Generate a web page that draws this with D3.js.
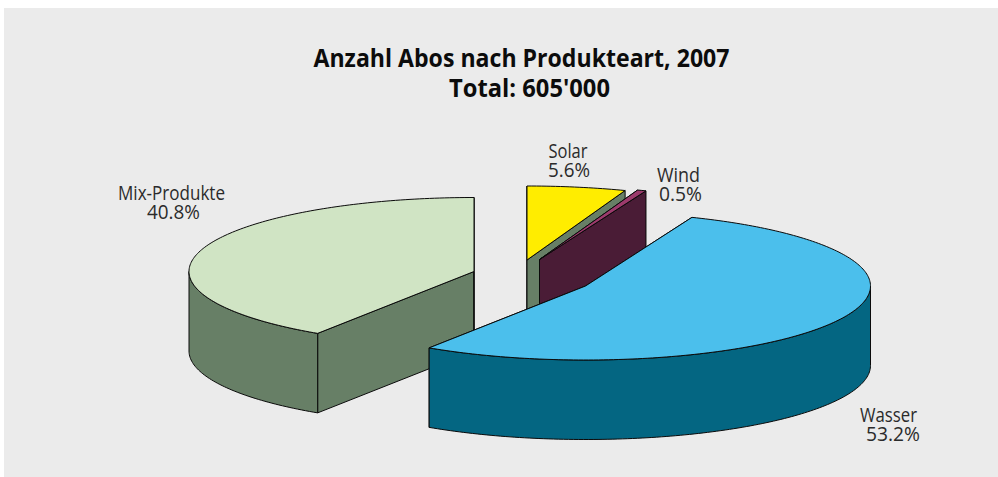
<!DOCTYPE html>
<html>
<head>
<meta charset="utf-8">
<script src="https://cdn.jsdelivr.net/npm/d3@7/dist/d3.min.js"></script>
<style>
html,body{margin:0;padding:0;background:#fff;overflow:hidden}
svg{display:block}
text{font-family:"Open Sans","Noto Sans",sans-serif}
</style>
</head>
<body>
<div id="chart"></div>
<script>
// Data
const categories = ["Solar", "Wind", "Wasser", "Mix-Produkte"];
const shares = [5.6, 0.5, 53.2, 40.8];
const shareLabels = ["5.6%", "0.5%", "53.2%", "40.8%"];
const titleLines = ["Anzahl Abos nach Produkteart, 2007", "Total: 605'000"];

// Layout and style
const W = 998, H = 477;
const rx = 285, ry = 74, depth = 79.5;
const centres = [[527, 260], [539.5, 259.5], [585.5, 286], [474, 271.5]];
const topColors = ["#ffed00", "#9c3a6c", "#4bbfec", "#d0e4c4"];
const wallColors = ["#677f66", "#4a1c36", "#046682", "#677f66"];
const drawOrder = [3, 0, 1, 2];
// x, baseline y, text length for: name line, share line
const labelBoxes = [
  [[548.5, 157.5, 39], [548, 176.5, 42]],
  [[657, 181.5, 43], [659, 200.5, 43]],
  [[860, 421.5, 57], [866, 440.5, 54]],
  [[118, 200, 107], [147, 219, 53]]
];
const titleBoxes = [[313.5, 67, 416], [449, 96.5, 161]];

const svg = d3.select("#chart").append("svg").attr("width", W).attr("height", H);
svg.append("rect").attr("x", 4).attr("y", 8).attr("width", W - 4).attr("height", H - 8).attr("fill", "#ebebeb");

const sx = d3.scaleLinear().domain([-1, 1]).range([-rx, rx]);
const sy = d3.scaleLinear().domain([-1, 1]).range([-ry, ry]);

const arcs = d3.pie().sort(null).startAngle(0).endAngle(2 * Math.PI)(shares);
const line = d3.line();
const rim = (i, t, dz = 0) => [centres[i][0] + sx(Math.sin(t)), centres[i][1] + sy(-Math.cos(t)) + dz];
const sweep = (i, a, b, dz = 0) => {
  const n = Math.max(2, Math.ceil((b - a) / (Math.PI / 180)));
  return d3.range(n + 1).map(k => rim(i, a + (b - a) * k / n, dz));
};
const paint = (pts, fill) => svg.append("path")
  .attr("d", line(pts) + "Z")
  .attr("fill", fill)
  .attr("stroke", "#0a0a0a")
  .attr("stroke-width", 1)
  .attr("stroke-linejoin", "round");

drawOrder.forEach(i => {
  const a = arcs[i].startAngle, b = arcs[i].endAngle;
  const c = centres[i], cLow = [c[0], c[1] + depth];
  // radial side walls
  [a, b].forEach(t => {
    paint([c, rim(i, t), rim(i, t, depth), cLow], wallColors[i]);
  });
  // outer wall, front half only
  const from = Math.max(a, Math.PI / 2), to = Math.min(b, 3 * Math.PI / 2);
  if (to > from) {
    paint(sweep(i, from, to).concat(sweep(i, from, to, depth).reverse()), wallColors[i]);
  }
  // top face
  paint([c].concat(sweep(i, a, b)), topColors[i]);
});

// Title
svg.selectAll("text.title").data(titleLines).join("text")
  .attr("class", "title")
  .attr("x", (d, i) => titleBoxes[i][0])
  .attr("y", (d, i) => titleBoxes[i][1])
  .attr("textLength", (d, i) => titleBoxes[i][2])
  .attr("lengthAdjust", "spacingAndGlyphs")
  .attr("font-size", 24.5)
  .attr("font-weight", 700)
  .attr("fill", "#0c0c0c")
  .text(d => d);

// Labels
categories.forEach((name, i) => {
  [name, shareLabels[i]].forEach((str, j) => {
    const box = labelBoxes[i][j];
    svg.append("text")
      .attr("x", box[0]).attr("y", box[1])
      .attr("textLength", box[2])
      .attr("lengthAdjust", "spacingAndGlyphs")
      .attr("font-size", 19.5)
      .attr("font-weight", 400)
      .attr("fill", "#2a2a2a")
      .text(str);
  });
});
</script>
</body>
</html>
